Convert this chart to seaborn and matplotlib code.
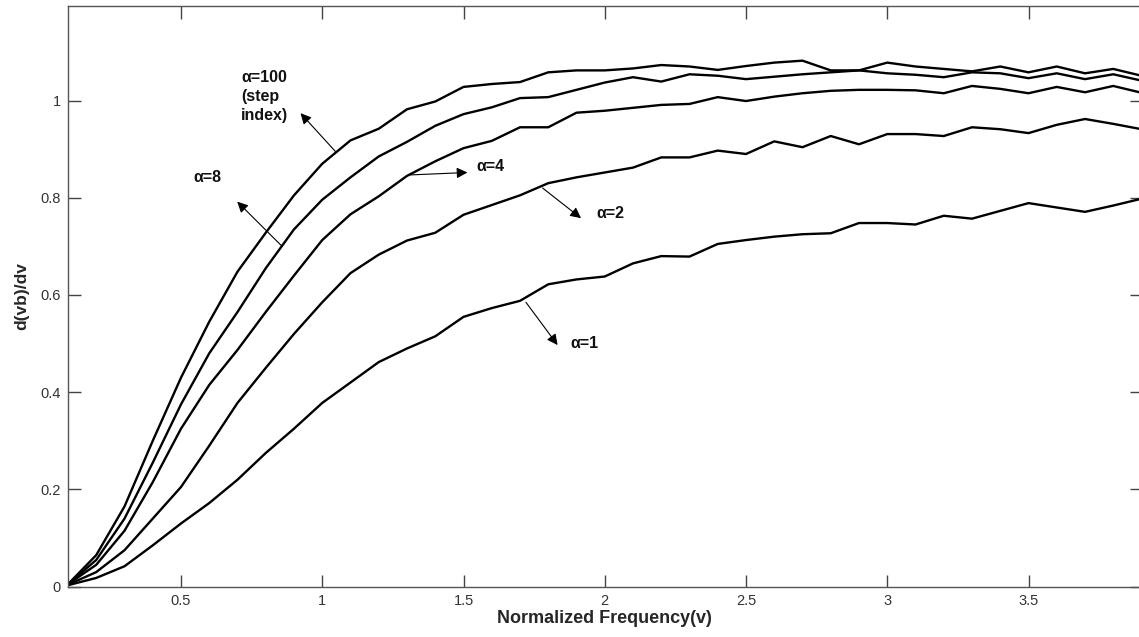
import numpy as np
import pandas as pd
import matplotlib
matplotlib.use("Agg")
import matplotlib.pyplot as plt
import seaborn as sns

# ---------------- data ----------------
v = [0.1, 0.2, 0.3, 0.4, 0.5, 0.6, 0.7, 0.8, 0.9, 1.0,
     1.1, 1.2, 1.3, 1.4, 1.5, 1.6, 1.7, 1.8, 1.9, 2.0,
     2.1, 2.2, 2.3, 2.4, 2.5, 2.6, 2.7, 2.8, 2.9, 3.0,
     3.1, 3.2, 3.3, 3.4, 3.5, 3.6, 3.7, 3.8, 3.9]

alpha_100 = [0.005, 0.065, 0.165, 0.300, 0.430, 0.545, 0.648, 0.728, 0.805, 0.870,
             0.918, 0.942, 0.982, 0.998, 1.028, 1.034, 1.038, 1.058, 1.062, 1.062,
             1.066, 1.073, 1.070, 1.063, 1.071, 1.078, 1.082, 1.062, 1.062, 1.056,
             1.053, 1.048, 1.058, 1.056, 1.046, 1.056, 1.044, 1.054, 1.041]

alpha_8 = [0.005, 0.055, 0.140, 0.255, 0.375, 0.480, 0.565, 0.655, 0.735, 0.796,
           0.842, 0.885, 0.915, 0.948, 0.972, 0.986, 1.005, 1.007, 1.022, 1.037,
           1.048, 1.039, 1.054, 1.051, 1.044, 1.049, 1.054, 1.058, 1.062, 1.078,
           1.070, 1.065, 1.060, 1.070, 1.058, 1.070, 1.056, 1.065, 1.051]

alpha_4 = [0.005, 0.045, 0.115, 0.215, 0.325, 0.415, 0.487, 0.565, 0.640, 0.713,
           0.766, 0.803, 0.845, 0.875, 0.902, 0.917, 0.945, 0.945, 0.975, 0.979,
           0.985, 0.991, 0.993, 1.007, 0.999, 1.008, 1.015, 1.020, 1.022, 1.022,
           1.021, 1.015, 1.030, 1.024, 1.015, 1.028, 1.017, 1.030, 1.016]

alpha_2 = [0.004, 0.030, 0.075, 0.140, 0.205, 0.290, 0.378, 0.450, 0.520, 0.585,
           0.645, 0.683, 0.712, 0.728, 0.765, 0.785, 0.805, 0.830, 0.842, 0.852,
           0.862, 0.883, 0.883, 0.897, 0.890, 0.916, 0.904, 0.927, 0.910, 0.931,
           0.931, 0.927, 0.945, 0.941, 0.933, 0.950, 0.962, 0.952, 0.941]

alpha_1 = [0.003, 0.018, 0.042, 0.085, 0.130, 0.172, 0.220, 0.275, 0.325, 0.378,
           0.420, 0.462, 0.490, 0.515, 0.555, 0.573, 0.588, 0.622, 0.632, 0.638,
           0.665, 0.680, 0.679, 0.705, 0.713, 0.720, 0.725, 0.727, 0.748, 0.748,
           0.745, 0.763, 0.757, 0.773, 0.789, 0.780, 0.771, 0.784, 0.798]

series_names = ["α=100", "α=8", "α=4", "α=2", "α=1"]
series_values = [alpha_100, alpha_8, alpha_4, alpha_2, alpha_1]

x_ticks = [0.5, 1, 1.5, 2, 2.5, 3, 3.5]
x_tick_labels = ["0.5", "1", "1.5", "2", "2.5", "3", "3.5"]
y_ticks = [0, 0.2, 0.4, 0.6, 0.8, 1]
y_tick_labels = ["0", "0.2", "0.4", "0.6", "0.8", "1"]

# annotations: text, text anchor (v, value, vertical align), arrow tail, arrow head
annot_texts = ["α=100\n(step\nindex)", "α=8", "α=4", "α=2", "α=1"]
annot_text_pos = [(0.712, 1.063, "top"), (0.545, 0.842, "center"), (1.545, 0.864, "center"),
                  (1.97, 0.767, "center"), (1.88, 0.501, "center")]
annot_tail = [(1.047, 0.895), (0.858, 0.700), (1.313, 0.847), (1.780, 0.820), (1.721, 0.585)]
annot_head = [(0.923, 0.974), (0.699, 0.792), (1.514, 0.852), (1.916, 0.758), (1.833, 0.497)]

# ---------------- long table ----------------
df = pd.DataFrame({
    "v": np.tile(v, len(series_names)),
    "value": np.concatenate(series_values),
    "alpha": np.repeat(series_names, len(v)),
})

# ---------------- style ----------------
sns.set_style("ticks")
plt.rcParams["font.family"] = ["Liberation Sans", "DejaVu Sans"]
plt.rcParams["xtick.direction"] = "in"
plt.rcParams["ytick.direction"] = "in"

fig = plt.figure(figsize=(11.39, 6.37), dpi=100)
ax = fig.add_axes([0.0597, 0.079, 0.9425, 0.912])

sns.lineplot(data=df, x="v", y="value", hue="alpha", hue_order=series_names,
             palette=["black"] * len(series_names), estimator=None,
             linewidth=1.7, legend=False, ax=ax)

ax.set_xlim(0.1, 3.9)
ax.set_ylim(0, 1.195)
ax.set_xticks(x_ticks)
ax.set_xticklabels(x_tick_labels)
ax.set_yticks(y_ticks)
ax.set_yticklabels(y_tick_labels)

ax.tick_params(axis="both", which="both", direction="in", length=9, width=1,
               color="#444444", labelsize=10.5, labelcolor="#333333",
               top=True, right=True, pad=5)
for s in ax.spines.values():
    s.set_visible(True)
    s.set_color("#555555")
    s.set_linewidth(1.0)

ax.set_xlabel("Normalized Frequency(v)", fontsize=13, fontweight="bold", labelpad=2)
ax.set_ylabel("d(vb)/dv", fontsize=12.5, fontweight="bold", labelpad=8)

for txt, tp, tail, head in zip(annot_texts, annot_text_pos, annot_tail, annot_head):
    ax.annotate("", xy=head, xytext=tail,
                arrowprops=dict(arrowstyle="-|>", color="black", lw=0.8,
                                mutation_scale=16, shrinkA=0, shrinkB=0))
    ax.text(tp[0], tp[1], txt, fontsize=11.5, fontweight="bold", ha="left", va=tp[2],
            color="#111111", linespacing=1.35)

fig.savefig("out.png", dpi=100)
